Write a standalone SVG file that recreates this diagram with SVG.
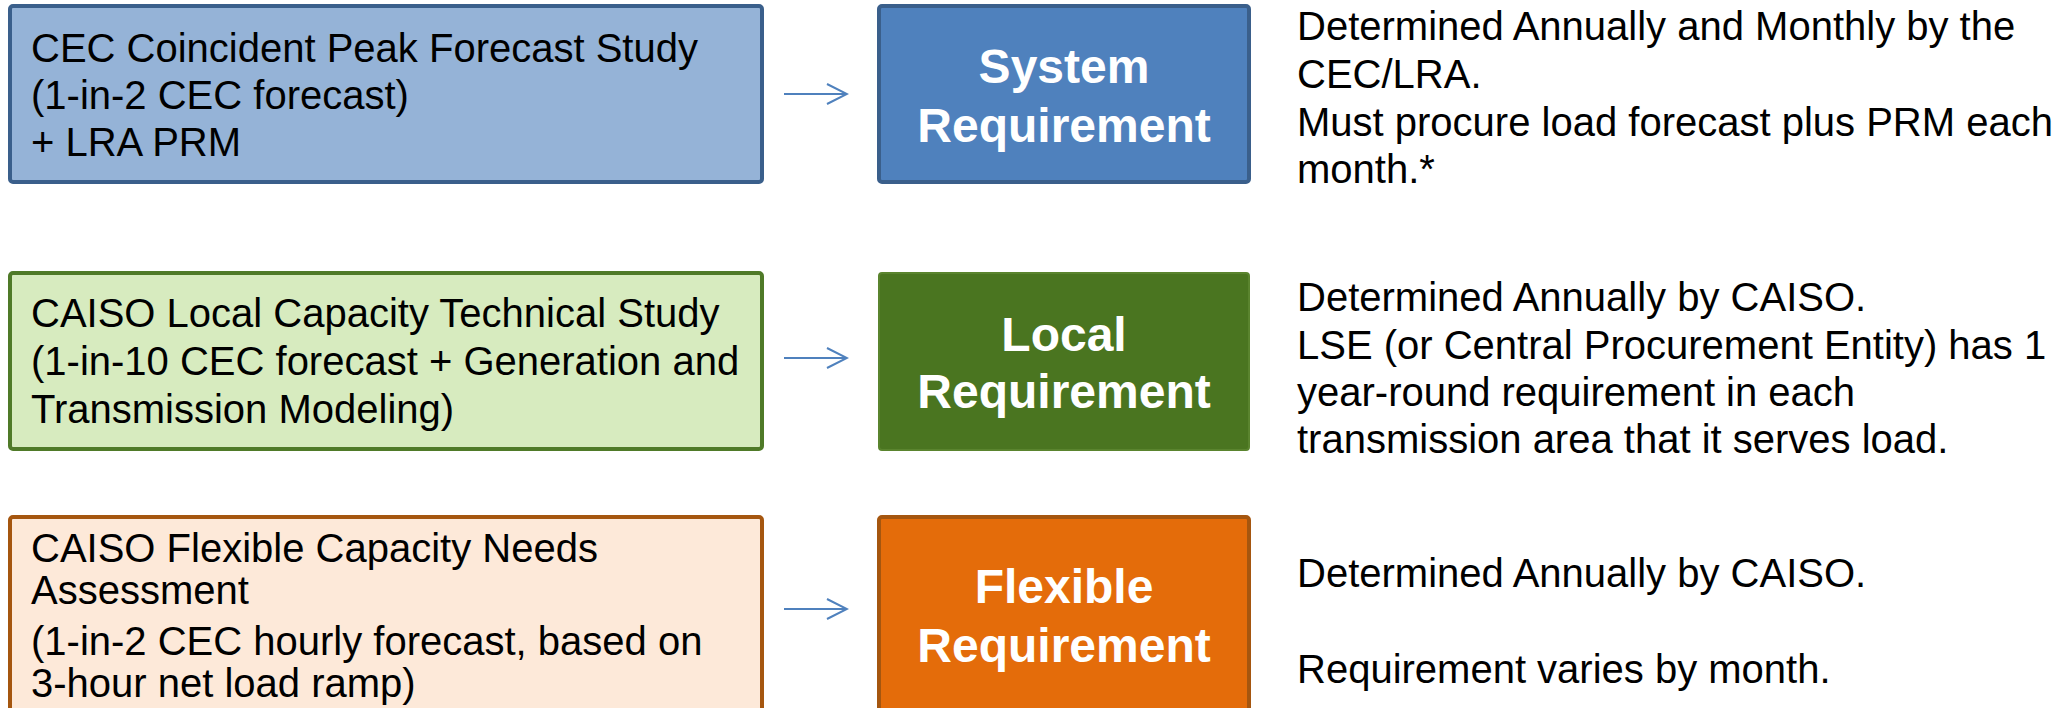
<svg xmlns="http://www.w3.org/2000/svg" width="2070" height="708" viewBox="0 0 2070 708">
<style>
text{font-family:"Liberation Sans",Arial,sans-serif;}
.src{font-size:40px;fill:#000;}
.req{font-size:48px;font-weight:bold;fill:#fff;text-anchor:middle;}
.note{font-size:40px;fill:#000;}
.arrow{stroke:#4F81BD;stroke-width:2;fill:none;}
</style>
<defs>
<marker id="chev" markerUnits="userSpaceOnUse" markerWidth="24" markerHeight="24" viewBox="-22 -12 24 24" refX="0" refY="0" orient="auto">
<path d="M-20,-10 L0,0 L-20,10" fill="none" stroke="#4F81BD" stroke-width="2"/>
</marker>
</defs>
<rect width="2070" height="708" fill="#fff"/>

<g id="src-system">
<rect x="10" y="6" width="752" height="176" rx="3" fill="#95B3D7" stroke="#3A5F8B" stroke-width="4"/>
<text class="src" x="31" y="62">CEC Coincident Peak Forecast Study</text>
<text class="src" x="31" y="109">(1-in-2 CEC forecast)</text>
<text class="src" x="31" y="156">+ LRA PRM</text>
</g>

<g id="req-system">
<rect x="879" y="6" width="370" height="176" rx="3" fill="#4F81BD" stroke="#3A5F8B" stroke-width="4"/>
<text class="req" x="1064" y="83">System</text>
<text class="req" x="1064" y="142">Requirement</text>
</g>

<g id="note-system">
<text class="note" x="1297" y="40">Determined Annually and Monthly by the</text>
<text class="note" x="1297" y="88">CEC/LRA.</text>
<text class="note" x="1297" y="136">Must procure load forecast plus PRM each</text>
<text class="note" x="1297" y="183">month.*</text>
</g>

<g id="src-local">
<rect x="10" y="273" width="752" height="176" rx="3" fill="#D7EBBF" stroke="#4F7A28" stroke-width="4"/>
<text class="src" x="31" y="327">CAISO Local Capacity Technical Study</text>
<text class="src" x="31" y="375">(1-in-10 CEC forecast + Generation and</text>
<text class="src" x="31" y="423">Transmission Modeling)</text>
</g>

<g id="req-local">
<rect x="879" y="273" width="370" height="177" rx="3" fill="#4A7520" stroke="#5A842E" stroke-width="2"/>
<text class="req" x="1064" y="351">Local</text>
<text class="req" x="1064" y="408">Requirement</text>
</g>

<g id="note-local">
<text class="note" x="1297" y="311">Determined Annually by CAISO.</text>
<text class="note" x="1297" y="359">LSE (or Central Procurement Entity) has 1</text>
<text class="note" x="1297" y="406">year-round requirement in each</text>
<text class="note" x="1297" y="453">transmission area that it serves load.</text>
</g>

<g id="src-flexible">
<rect x="10" y="517" width="752" height="200" rx="3" fill="#FDE9D9" stroke="#A5560F" stroke-width="4"/>
<text class="src" x="31" y="562">CAISO Flexible Capacity Needs</text>
<text class="src" x="31" y="604">Assessment</text>
<text class="src" x="31" y="655">(1-in-2 CEC hourly forecast, based on</text>
<text class="src" x="31" y="697">3-hour net load ramp)</text>
</g>

<g id="req-flexible">
<rect x="879" y="517" width="370" height="200" rx="3" fill="#E46C0A" stroke="#A5560F" stroke-width="4"/>
<text class="req" x="1064" y="603">Flexible</text>
<text class="req" x="1064" y="662">Requirement</text>
</g>

<g id="note-flexible">
<text class="note" x="1297" y="587">Determined Annually by CAISO.</text>
<text class="note" x="1297" y="683">Requirement varies by month.</text>
</g>

<g id="connectors">
<line class="arrow" x1="784" y1="94" x2="847" y2="94" marker-end="url(#chev)"/>
<line class="arrow" x1="784" y1="358" x2="847" y2="358" marker-end="url(#chev)"/>
<line class="arrow" x1="784" y1="609" x2="847" y2="609" marker-end="url(#chev)"/>
</g>
</svg>
